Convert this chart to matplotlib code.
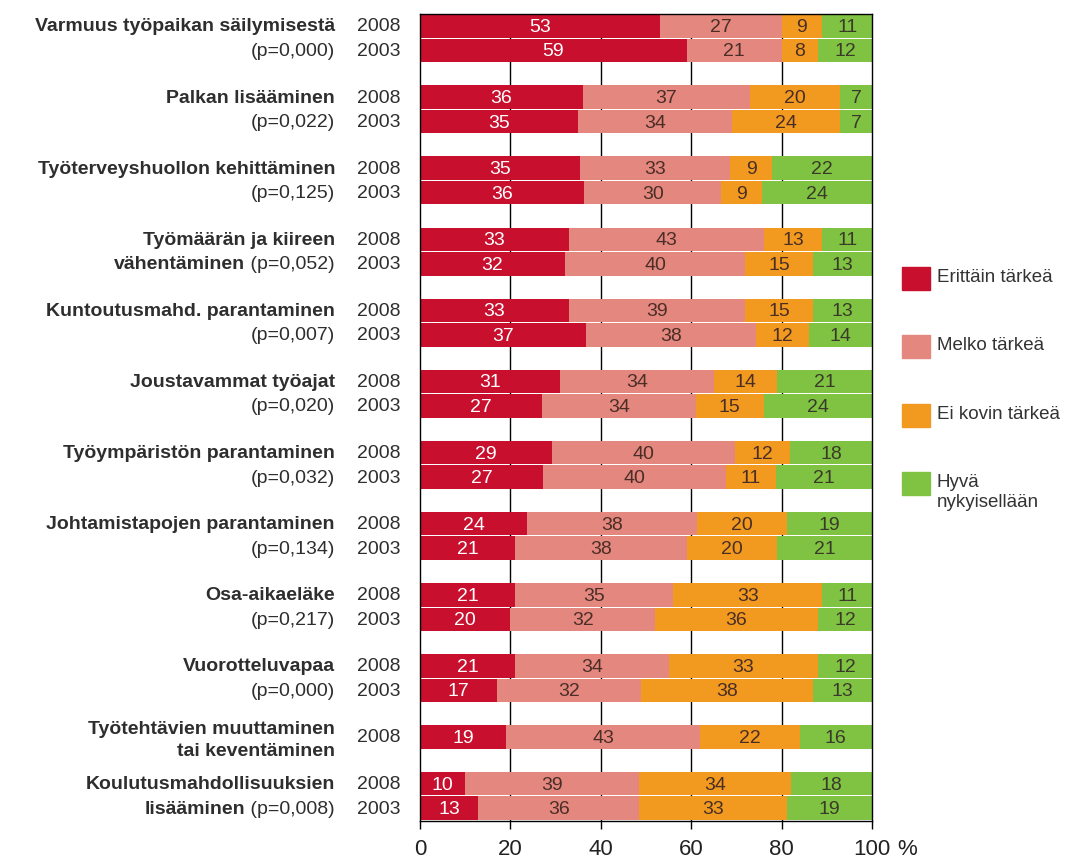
import numpy as np
import matplotlib.pyplot as plt
from matplotlib.patches import Rectangle
from matplotlib.transforms import blended_transform_factory

plt.rcParams['font.family'] = ['Liberation Sans', 'DejaVu Sans']

# category labels (bold part of line 1 / line 2, p-value)
line1 = ["Varmuus työpaikan säilymisestä", "Palkan lisääminen",
         "Työterveyshuollon kehittäminen", "Työmäärän ja kiireen",
         "Kuntoutusmahd. parantaminen", "Joustavammat työajat",
         "Työympäristön parantaminen", "Johtamistapojen parantaminen",
         "Osa-aikaeläke", "Vuorotteluvapaa", "Työtehtävien muuttaminen",
         "Koulutusmahdollisuuksien"]
line2 = ["", "", "", "vähentäminen", "", "", "", "", "", "",
         "tai keventäminen", "lisääminen"]
p_vals = ["0,000", "0,022", "0,125", "0,052", "0,007", "0,020", "0,032",
          "0,134", "0,217", "0,000", "", "0,008"]
group_sizes = [2] * 10 + [1, 2]

# bars in drawing order
years = ["2008", "2003"] * 10 + ["2008"] + ["2008", "2003"]
erittain = [53, 59, 36, 35, 35, 36, 33, 32, 33, 37, 31, 27, 29, 27, 24, 21, 21, 20, 21, 17, 19, 10, 13]
melko = [27, 21, 37, 34, 33, 30, 43, 40, 39, 38, 34, 34, 40, 40, 38, 38, 35, 32, 34, 32, 43, 39, 36]
ei_kovin = [9, 8, 20, 24, 9, 9, 13, 15, 15, 12, 14, 15, 12, 11, 20, 20, 33, 36, 33, 38, 22, 34, 33]
hyva = [11, 12, 7, 7, 22, 24, 11, 13, 13, 14, 21, 24, 18, 21, 19, 21, 11, 12, 12, 13, 16, 18, 19]

series = [erittain, melko, ei_kovin, hyva]
names = ["Erittäin tärkeä", "Melko tärkeä", "Ei kovin tärkeä", "Hyvä\nnykyisellään"]
colors = ["#c8102e", "#e4877f", "#f29a1f", "#80c342"]
txt_colors = ["white", "#4a2e26", "#4a2e26", "#3a3a2a"]

# layout (pixel-like y units)
pitch = 24.5
gap = 46.6
ypos = []
group_y = []
y = 27
for g, n in enumerate(group_sizes):
    ys = []
    for i in range(n):
        ys.append(y)
        ypos.append(y)
        y += pitch
    y += gap - pitch
    group_y.append(ys)
ypos = np.array(ypos)

fig = plt.figure(figsize=(10.77, 8.62), dpi=100)
ax = fig.add_axes([420 / 1077, 1 - 822 / 862, 452 / 1077, 807 / 862])

vals = np.array(series, dtype=float)
widths = vals / vals.sum(axis=0) * 100
left = np.zeros(len(ypos))
for k in range(4):
    ax.barh(ypos, widths[k], left=left, height=23.5, color=colors[k], zorder=2)
    for yy, l, w, v in zip(ypos, left, widths[k], vals[k]):
        ax.text(l + w / 2, yy + 0.5, f"{int(v)}", ha="center", va="center",
                fontsize=14, color=txt_colors[k], zorder=3)
    left += widths[k]

ax.set_xlim(0, 100)
ax.set_ylim(822, 15)
ax.set_yticks([])
ax.set_xticks([0, 20, 40, 60, 80, 100])
ax.set_xticklabels(["0", "20", "40", "60", "80", "100"], fontsize=16, color="#222222")
ax.tick_params(axis="x", direction="out", length=6, width=1, pad=6)
for x in [20, 40, 60, 80]:
    ax.axvline(x, color="black", lw=1, zorder=1)
for s in ax.spines.values():
    s.set_linewidth(1)
    s.set_zorder(4)
ax.text(105.5, -16.8 / 807, "%", transform=blended_transform_factory(ax.transData, ax.transAxes),
        ha="left", va="top", fontsize=16, color="#222222", clip_on=False)

# left labels
tr = blended_transform_factory(fig.transFigure, ax.transData)
lab_x = 335 / 1077
yr_x = 357 / 1077
lab_col = "#2e2e2e"
fs = 14
renderer = fig.canvas.get_renderer()
for g in range(len(group_sizes)):
    ys = group_y[g]
    if len(ys) == 1:
        l1y, l2y = ys[0] - 9, ys[0] + 14
    else:
        l1y, l2y = ys[0], ys[1]
    ax.text(lab_x, l1y, line1[g], transform=tr, ha="right", va="center",
            fontsize=fs, fontweight="bold", color=lab_col)
    ptxt = f" (p={p_vals[g]})" if p_vals[g] else ""
    if line2[g] and ptxt:
        pt = ax.text(lab_x, l2y, ptxt, transform=tr, ha="right", va="center",
                     fontsize=fs, color=lab_col)
        bb = pt.get_window_extent(renderer)
        ax.text(bb.x0 / 1077, l2y, line2[g], transform=tr, ha="right", va="center",
                fontsize=fs, fontweight="bold", color=lab_col)
    elif line2[g]:
        ax.text(lab_x, l2y, line2[g], transform=tr, ha="right", va="center",
                fontsize=fs, fontweight="bold", color=lab_col)
    else:
        ax.text(lab_x, l2y, ptxt.strip(), transform=tr, ha="right", va="center",
                fontsize=fs, color=lab_col)

for yy, yr in zip(ypos, years):
    ax.text(yr_x, yy, yr, transform=tr, ha="left", va="center", fontsize=fs, color=lab_col)

# legend
leg_y = [279, 347, 416, 484]
for k in range(4):
    cy = 1 - leg_y[k] / 862
    fig.add_artist(Rectangle((902 / 1077, cy - 11.5 / 862), 28 / 1077, 23 / 862,
                             transform=fig.transFigure, color=colors[k]))
    fig.text(937 / 1077, cy + 10 / 862, names[k], ha="left", va="top", fontsize=13.5,
             color="#333333", linespacing=1.2)

fig.savefig("out.png", dpi=100)
